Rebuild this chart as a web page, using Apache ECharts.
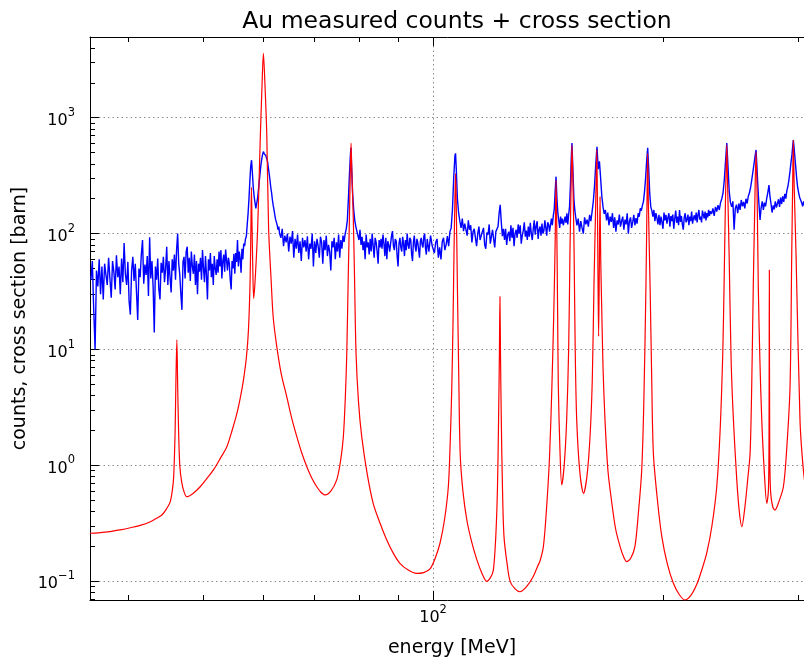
<!DOCTYPE html>
<html><head><meta charset="utf-8">
<script src="https://cdn.jsdelivr.net/npm/echarts@6/dist/echarts.min.js"></script>
<style>html,body{margin:0;padding:0;background:#fff}#c{width:804px;height:662px}</style>
</head><body><div id="c"></div>
<script>
// measured counts: [energy MeV, counts]
const countsData = [
[35.7,40],[35.85,58],[36,22],[36.15,10],[36.3,48],[36.45,35],[36.6,60],[36.75,30],[36.9,52],[37.05,27],
[37.2,55],[37.35,44],[37.5,36],[37.65,62],[37.8,41],[37.95,28],[38.1,58],[38.25,47],[38.4,33],[38.55,65],
[38.7,42],[38.85,52],[39,30],[39.15,61],[39.3,38],[39.45,83],[39.6,45],[39.75,36],[39.9,57],[40.05,26],
[40.2,20],[40.35,48],[40.5,63],[40.65,39],[40.8,55],[40.95,31],[41.1,18],[41.25,50],[41.4,42],[41.55,66],
[41.7,88],[41.85,37],[42,54],[42.15,44],[42.3,64],[42.45,29],[42.6,93],[42.75,41],[42.9,58],[43.05,35],
[43.2,14],[43.35,52],[43.5,40],[43.65,61],[43.8,33],[43.95,27],[44.1,56],[44.25,46],[44.4,63],[44.55,38],
[44.7,50],[44.85,77],[45,36],[45.15,58],[45.3,42],[45.45,31],[45.6,60],[45.75,48],[45.9,66],[46.05,40],
[46.2,72],[46.35,100],[46.5,55],[46.65,44],[46.8,30],[46.95,22],[47.1,57],[47.25,63],[47.4,41],[47.55,70],
[47.7,77],[47.85,46],[48,62],[48.15,39],[48.3,70],[48.45,52],[48.6,45],[48.75,66],[48.9,36],[49.05,58],
[49.2,30],[49.35,55],[49.5,47],[49.65,62],[49.8,40],[49.95,72],[50.1,50],[50.25,38],[50.4,64],[50.55,44],
[50.7,27],[50.85,60],[51,48],[51.15,68],[51.3,42],[51.45,55],[51.6,36],[51.75,64],[51.9,50],[52.05,44],
[52.2,60],[52.35,46],[52.5,70],[52.65,52],[52.8,72],[52.95,41],[53.1,58],[53.25,66],[53.4,47],[53.55,73],
[53.7,75],[53.85,48],[54,62],[54.15,55],[54.3,40],[54.45,33],[54.6,58],[54.75,50],[54.9,67],[55.05,45],
[55.2,68],[55.35,57],[55.5,88],[55.65,52],[55.8,70],[55.95,61],[56.1,46],[56.25,74],[56.4,60],[56.55,82],
[56.7,78],[56.85,90],
[57,95],[57.15,120],[57.3,150],[57.45,200],[57.6,280],[57.75,380],[57.9,430],[58.05,330],[58.2,250],[58.35,210],
[58.5,185],[58.65,165],[58.8,170],[58.95,200],[59.1,235],[59.25,280],[59.4,330],[59.55,390],[59.7,440],[59.85,480],
[60,510],[60.15,490],[60.3,505],[60.45,470],[60.6,455],[60.75,420],[60.9,370],[61.05,330],[61.2,290],[61.35,250],
[61.5,225],[61.65,195],[61.8,175],[61.95,160],[62.1,145],[62.25,132],[62.4,125],[62.55,118],[62.7,108],[62.85,115],
[63,100],
[63.25,92],[63.5,110],[63.75,78],[64,96],[64.25,84],[64.5,100],[64.75,70],[65,94],[65.25,82],[65.5,105],
[65.75,62],[66,90],[66.25,74],[66.5,98],[66.75,68],[67,86],[67.25,58],[67.5,92],[67.75,76],[68,88],
[68.25,70],[68.5,95],[68.75,60],[69,82],[69.25,74],[69.5,100],[69.75,52],[70,86],[70.25,68],[70.5,90],
[70.75,78],[71,62],[71.25,94],[71.5,84],[71.75,55],[72,88],[72.25,72],[72.5,96],[72.75,64],[73,80],
[73.25,70],[73.5,48],[73.75,86],[74,76],[74.25,92],[74.5,60],[74.75,84],[75,70],[75.25,98],[75.5,62],
[75.75,88],[76,74],[76.25,96],[76.5,85],[76.75,100],[77,110],[77.25,130],[77.5,200],[77.75,330],[78,500],[78.1,550],
[78.25,380],[78.5,220],[78.75,160],[79,130],[79.25,115],[79.5,105],[79.75,96],[80,88],[80.25,108],[80.5,80],
[80.75,94],[81,72],[81.25,86],[81.5,60],[81.75,98],[82,76],[82.25,84],[82.5,66],[82.75,90],[83,70],
[83.25,100],[83.5,78],[83.75,62],[84,92],[84.25,84],[84.5,70],[84.75,55],[85,88],[85.25,76],[85.5,90],
[85.75,74],[86,98],[86.25,82],[86.5,64],[86.75,92],[87,60],[87.25,86],[87.5,80],[87.75,70],[88,68],
[88.25,96],[88.5,105],[88.75,78],[89,72],[89.25,90],[89.5,86],[89.75,64],[90,52],[90.25,82],[90.5,92],
[90.75,76],[91,70],[91.25,94],[91.5,82],[91.75,64],[92,88],[92.25,72],[92.5,100],[92.75,80],[93,74],
[93.25,92],[93.5,88],[93.75,66],[94,58],[94.25,84],[94.5,96],[94.75,78],[95,70],[95.25,90],[95.5,84],
[95.75,72],[96,62],[96.25,86],[96.5,92],[96.75,80],[97,76],[97.25,94],[97.5,100],[97.75,74],[98,66],
[98.25,90],[98.5,88],[98.75,70],[99,72],[99.25,96],[99.5,95],[99.75,78],[100,80],
[100.4,68],[100.8,84],[101.2,90],[101.6,62],[102,76],[102.4,60],[102.8,85],[103.2,92],[103.6,72],[104,80],
[104.4,95],[104.8,78],[105.2,104],[105.6,112],[106,160],[106.4,300],[106.8,470],[107,493],[107.2,380],[107.6,200],[108,150],
[108.4,128],[108.8,112],[109.2,135],[109.6,105],[110,122],[110.4,118],[110.8,96],[111.2,130],[111.6,108],[112,118],
[112.4,84],[112.8,104],[113.2,110],[113.6,92],[114,78],[114.4,100],[114.8,115],[115.2,88],[115.6,96],[116,104],
[116.4,112],[116.8,80],[117.2,74],[117.6,102],[118,98],[118.4,120],[118.8,82],[119.2,94],[119.6,108],[120,90],
[120.4,76],[120.8,104],[121.2,102],[121.6,115],[122,150],[122.4,177],[122.8,125],[123.2,95],[123.6,110],[124,88],
[124.4,110],[124.8,80],[125.2,98],[125.6,104],[126,86],[126.4,118],[126.8,92],[127.2,112],[127.6,78],[128,100],
[128.4,108],[128.8,92],[129.2,120],[129.6,100],[130,118],[130.4,82],[130.8,96],[131.2,106],[131.6,125],[132,94],
[132.4,106],[132.8,88],[133.2,115],[133.6,94],[134,124],[134.4,100],[134.8,88],[135.2,110],[135.6,130],[136,98],
[136.4,116],[136.8,128],[137.2,90],[137.6,108],[138,115],[138.4,96],[138.8,122],[139.2,100],[139.6,106],[140,130],
[140.4,112],[140.8,96],[141.2,125],[141.6,120],[142,104],[142.4,108],[142.8,135],[143.2,118],[143.6,142],[144,160],
[144.4,230],[144.8,310],[145.2,200],[145.6,150],
[146,130],[146.4,112],[146.8,140],[147.2,122],[147.6,135],[148,118],[148.4,128],[148.8,140],[149.2,124],[149.6,150],
[150,120],[150.4,145],[150.8,170],[151.2,260],[151.6,450],[151.9,605],[152.4,330],[152.8,200],[153.2,160],[153.6,140],
[154.2,118],[154.8,135],[155.4,104],[156,128],[156.6,112],[157.2,100],[157.8,138],[158.4,120],[159,132],[159.6,115],
[160.2,145],[160.8,128],[161.4,155],[162,190],[162.6,260],[163.2,400],[163.8,560],[164.4,360],[165,420],[165.6,300],
[166.2,210],[166.8,170],[167.4,148],[168,160],[168.6,130],[169.2,152],[169.8,118],[170.4,140],[171,126],[171.6,150],
[172.2,112],[172.8,138],[173.4,104],[174,130],[174.6,120],[175.2,146],[175.8,115],[176.4,128],[177,140],[177.6,108],
[178.2,132],[178.8,120],[179.4,150],[180,100],[180.6,128],[181.2,138],[181.8,112],[182.4,126],[183,145],[183.6,118],
[184.2,136],[184.8,122],[185.4,150],[186,140],[186.6,165],[187.2,158],[187.8,175],[188.4,190],[189,230],[189.6,300],
[190.2,420],[190.8,550],[191.4,360],
[192,220],[192.6,170],[193.2,158],[193.8,140],[194.4,160],[195,128],[195.6,150],[196.2,136],[196.8,120],[197.4,145],
[198,118],[198.6,140],[199.2,125],[199.8,110],[200.4,152],[201,130],[201.6,145],[202.2,122],[202.8,138],[203.4,150],
[204,115],[204.6,142],[205.2,128],[205.8,146],[206.4,110],[207,135],[207.6,158],[208.2,124],[208.8,140],[209.4,118],
[210,160],[210.6,126],[211.2,142],[211.8,120],[212.4,108],[213,138],[213.6,150],[214.2,125],[214.8,132],[215.4,146],
[216,118],[216.6,140],[217.2,128],[217.8,155],[218.4,122],[219,136],[219.6,144],[220.2,130],[220.8,152],[221.4,125],
[222,145],[222.6,160],[223.2,132],[223.8,140],[224.4,125],[225,158],[225.6,146],[226.2,135],[226.8,155],[227.4,130],
[228,150],[228.6,138],[229.2,160],[229.8,142],[230.4,156],
[231.3,148],[232.2,165],[233.1,142],[234,170],[234.9,155],[235.8,176],[236.7,160],[237.6,185],[238.5,200],[239.4,225],
[240.3,290],[241.2,420],[242.1,605],[243,380],
[243.9,230],[244.8,185],[245.7,170],[246.6,190],[247.5,108],[248.4,165],[249.3,178],[250.2,150],[251.1,182],[252,160],
[252.9,195],[253.8,172],[254.7,188],[255.6,165],[256.5,200],[257.4,182],[258.3,210],[259.2,225],[260.1,250],[261,290],
[261.9,340],[262.8,400],[263.7,470],[264.4,527],[265,400],[265.6,290],[266.2,220],[266.8,175],[267.6,131],
[268.5,168],[269.4,190],[270.3,160],[271.2,185],[272.1,172],[273,200],[273.9,225],[274.9,262],[275.6,215],[276.6,180],
[277.5,152],[278.4,175],[279.3,162],[280.2,190],[281.1,168],[282,182],[282.9,198],[283.8,170],[284.7,205],[285.6,180],
[286.5,210],[287.4,188],[288.3,220],[289.2,200],[290.1,235],[291,255],[291.9,290],[292.8,340],[293.7,410],[294.6,480],
[295.2,560],[295.8,640],[296.4,560],[297,480],[297.9,380],[298.8,300],[299.7,250],[300.6,225],[301.5,205],[302.4,195],
[303.3,185],[304.2,172],[305.1,190],[306,175],[306.9,168],[307.8,182],[308.7,165],[309.6,178],[310.5,160],[311.4,172],
[312.3,165],[313.2,175],[314.1,162],[315,170]
];
// cross section: [energy MeV, barn]
const crossSectionData = [
[35.6,0.26],[36.5,0.262],[37.8,0.268],[39.0,0.278],[40.2,0.29],[41.5,0.305],[42.7,0.327],[43.5,0.35],[44.2,0.373],[44.8,0.42],
[45.3,0.48],[45.6,0.6],[45.8,0.8],[46.0,2.0],[46.1,5],[46.24,12.1],[46.35,5],[46.48,2.0],[46.65,1.0],[46.93,0.71],
[47.3,0.58],[47.64,0.537],[48.5,0.57],[49.6,0.655],[50.6,0.77],[51.6,0.91],[52.7,1.15],[53.75,1.45],[54.6,2.0],[55.4,2.81],
[56.0,3.9],[56.5,5.45],[57.0,8.5],[57.36,14.7],[57.65,40],[57.8,130],[57.88,250],[57.97,130],[58.1,55],[58.27,27.6],
[58.53,40],[58.97,110],[59.41,600],[59.77,2000],[60.0,3600],[60.27,2000],[60.62,700],[60.95,110],[61.41,40],[61.8,19],
[62.47,10.6],[63.3,6.2],[64.38,3.9],[65.3,2.6],[66.35,1.77],[67.3,1.3],[68.38,0.975],[69.4,0.78],[70.46,0.655],[71.3,0.59],
[72.25,0.556],[73.5,0.6],[74.82,0.75],[75.7,1.1],[76.33,1.77],[76.8,4.0],[77.12,9.3],[77.45,40],[77.73,131],[77.95,350],
[78.12,600],[78.3,350],[78.66,131],[78.95,40],[79.3,9.3],[79.9,3.5],[80.67,1.77],[82.0,0.85],[83.5,0.471],[85.2,0.32],
[86.99,0.227],[88.7,0.175],[90.5,0.143],[92.8,0.125],[95.2,0.117],[97.2,0.119],[99.1,0.128],[100.7,0.16],[102.1,0.213],[103.5,0.34],
[104.7,0.655],[105.3,1.6],[105.8,4.78],[106.2,18],[106.5,67.6],[106.8,200],[107.0,330],[107.2,200],[107.6,34.8],[108.0,7],
[108.5,1.27],[109.4,0.6],[110.7,0.338],[112.3,0.22],[114.1,0.153],[115.8,0.118],[117.5,0.1],[118.8,0.107],[119.9,0.125],[120.8,0.25],
[121.4,0.655],[121.8,2.5],[122.1,9.3],[122.3,28.6],[122.5,9.3],[122.8,2.46],[123.2,0.7],[123.8,0.243],[125.0,0.14],[126.1,0.1],
[128.0,0.086],[129.9,0.0813],[132.5,0.09],[135.2,0.11],[137.0,0.135],[138.0,0.15],[139.4,0.2],[140.8,0.45],[142.0,1.2],[143.0,4.78],
[143.8,20],[144.4,80],[144.8,290],[145.2,80],[145.5,20],[145.8,4.78],[146.5,1.4],[147.3,0.678],[148.4,1.0],[149.5,2.46],
[150.4,10],[151.0,68],[151.5,250],[151.9,581],[152.4,250],[152.9,68],[153.4,10],[154.1,2.46],[155.5,0.9],[157.3,0.574],
[158.9,0.8],[160.4,1.77],[161.5,5.5],[162.3,34.8],[163.0,130],[163.4,300],[163.7,527],[164.0,200],[164.3,40],[164.6,13],
[164.95,50],[165.3,208],[165.65,60],[166.1,25],[166.8,7],[167.8,2.46],[169.3,0.9],[171.3,0.471],[173.3,0.28],[175.6,0.199],
[177.3,0.165],[179.1,0.148],[181.3,0.158],[183.6,0.199],[185.6,0.4],[187.4,0.91],[188.6,3.5],[189.8,34.8],[190.4,180],[190.8,493],
[191.2,180],[192.2,34.8],[193.1,6],[194.1,1.27],[196.5,0.5],[199.1,0.243],[202.5,0.14],[206.1,0.0968],[209.8,0.077],[213.5,0.069],
[217.4,0.076],[221.2,0.0943],[224.6,0.126],[228.0,0.177],[231.5,0.3],[234.9,0.655],[237.3,2.0],[239.2,9.3],[240.2,40],[240.9,131],
[241.6,350],[242.1,581],[242.6,300],[243.8,68],[245.3,8],[247.0,2.46],[249.5,0.75],[251.4,0.4],[253.3,0.296],[255.8,0.45],
[257.8,0.75],[259.7,1.27],[261.0,5],[262.2,34.8],[263.5,200],[264.4,509],[265.3,200],[266.2,34.8],[267.5,8],[269.0,2.46],
[271.0,0.9],[273.1,0.471],[274.4,0.6],[274.9,1.5],[275.2,48.5],[275.5,1.5],[276.2,0.6],[278.0,0.44],[279.9,0.412],[283.0,0.48],
[287.1,0.655],[290.0,1.4],[292.9,4.78],[294.4,68],[295.2,250],[295.8,642],[296.6,250],[298.2,68],[301.8,2.46],[304.5,1.0],
[307.3,0.6],[311.0,0.38],[314.8,0.28]
];
const xMajorTicks = [100];
const xMajorLabels = [['10', '2']];
const xMinorTicks = [40,50,60,70,80,90,200,300];
const yMajorTicks = [0.1,1,10,100,1000];
const yMajorLabels = [['10', '−1'], ['10', '0'], ['10', '1'], ['10', '2'], ['10', '3']];
const yMinorTicks = [0.07,0.08,0.09,0.2,0.3,0.4,0.5,0.6,0.7,0.8,0.9,2,3,4,5,6,7,8,9,20,30,40,50,60,70,80,90,200,300,400,500,600,700,800,900,2000,3000,4000];
const xRange = [35.6, 314.8];
const yRange = [0.069, 4970];

const FONT = 'DejaVu Sans';
function lab(ticks, labels) {
  return function (v) {
    for (let i = 0; i < ticks.length; i++) {
      if (Math.abs(ticks[i] - v) / ticks[i] < 1e-6) return '{b|' + labels[i][0] + '}{s|' + labels[i][1] + '}';
    }
    return '';
  };
}
const richLab = {
  b: { fontSize: 16, fontFamily: FONT, color: '#000', lineHeight: 22, verticalAlign: 'bottom' },
  s: { fontSize: 11.5, fontFamily: FONT, color: '#000', lineHeight: 12, verticalAlign: 'top' }
};
const gridLine = { show: true, lineStyle: { color: '#8a8a8a', width: 1, type: [1.5, 3] } };
function axis(kind, position, major, withLine, withLabels) {
  const r = kind === 'x' ? xRange : yRange;
  const ticks = major ? (kind === 'x' ? xMajorTicks : yMajorTicks) : (kind === 'x' ? xMinorTicks : yMinorTicks);
  const a = {
    type: 'log', logBase: 10, position: position, min: r[0], max: r[1],
    axisLine: { show: withLine, onZero: false, lineStyle: { color: '#000', width: 1 } },
    axisTick: { show: true, inside: true, length: major ? 9 : 5, customValues: ticks, lineStyle: { color: '#000', width: 1 } },
    axisLabel: { show: false },
    splitLine: { show: false },
    silent: true
  };
  if (withLabels) {
    a.axisLabel = {
      show: true, customValues: ticks,
      formatter: kind === 'x' ? lab(xMajorTicks, xMajorLabels) : lab(yMajorTicks, yMajorLabels),
      rich: richLab, color: '#000', fontSize: 16, fontFamily: FONT, margin: kind === 'x' ? 4 : 15
    };
    a.splitLine = gridLine;
  }
  return a;
}
const xAxes = [axis('x', 'bottom', true, true, true), axis('x', 'bottom', false, false, false),
               axis('x', 'top', true, true, false), axis('x', 'top', false, false, false)];
xAxes[0].name = 'energy [MeV]';
xAxes[0].nameLocation = 'middle';
xAxes[0].nameGap = 39;
xAxes[0].nameMoveOverlap = false;
xAxes[0].nameTextStyle = { color: '#000', fontSize: 19, fontFamily: FONT };
const yAxes = [axis('y', 'left', true, true, true), axis('y', 'left', false, false, false),
               axis('y', 'right', true, true, false), axis('y', 'right', false, false, false)];
yAxes[0].name = 'counts, cross section [barn]';
yAxes[0].nameLocation = 'middle';
yAxes[0].nameGap = 60;
yAxes[0].nameMoveOverlap = false;
yAxes[0].nameTextStyle = { color: '#000', fontSize: 19, fontFamily: FONT };

const chart = echarts.init(document.getElementById('c'), null, { renderer: 'canvas' });
chart.setOption({
  backgroundColor: '#fff',
  animation: false,
  title: { text: 'Au measured counts + cross section', left: 452, top: 5, textAlign: 'center',
           textStyle: { color: '#000', fontSize: 23.5, fontWeight: 'normal', fontFamily: FONT } },
  grid: { left: 90, right: -10, top: 37, bottom: 62, containLabel: false, outerBoundsMode: 'none' },
  xAxis: xAxes,
  yAxis: yAxes,
  series: [
    { type: 'line', name: 'counts', data: countsData, xAxisIndex: 0, yAxisIndex: 0,
      symbol: 'none', showSymbol: false, lineStyle: { color: '#0000ff', width: 1.4 }, z: 2, silent: true },
    { type: 'line', name: 'cross section', data: crossSectionData, xAxisIndex: 0, yAxisIndex: 0,
      symbol: 'none', showSymbol: false, smooth: 0.3, lineStyle: { color: '#ff0000', width: 1.2 }, z: 3, silent: true }
  ]
});
</script></body></html>
